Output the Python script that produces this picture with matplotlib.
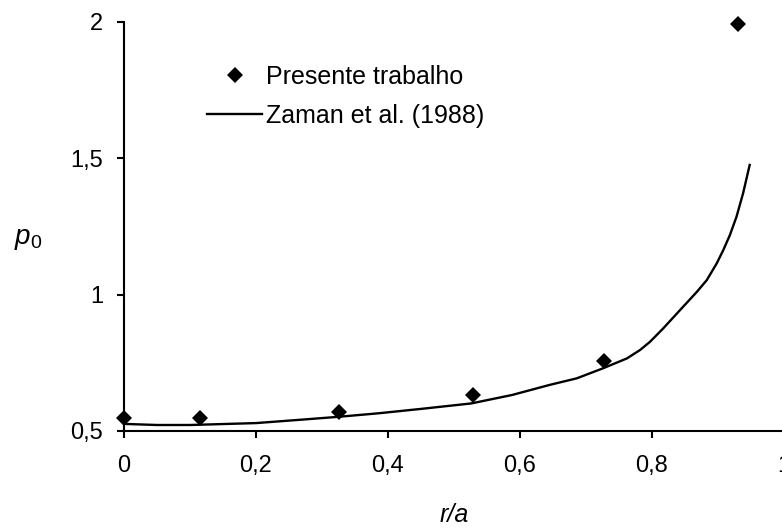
import numpy as np
import matplotlib.pyplot as plt

# measured values (present work)
r_pres = [0.0, 0.115, 0.326, 0.529, 0.727, 0.930]
p_pres = [0.548, 0.549, 0.568, 0.632, 0.758, 1.991]

# reference curve, Zaman et al. (1988)
r_zaman = [0.0, 0.05, 0.1, 0.2, 0.266, 0.325, 0.386, 0.45, 0.526, 0.588,
           0.645, 0.686, 0.726, 0.762, 0.782, 0.797, 0.817, 0.847, 0.868,
           0.883, 0.898, 0.908, 0.918, 0.928, 0.938, 0.948]
p_zaman = [0.526, 0.522, 0.522, 0.529, 0.541, 0.552, 0.565, 0.581, 0.601, 0.632,
           0.669, 0.693, 0.730, 0.766, 0.797, 0.827, 0.876, 0.955, 1.010,
           1.053, 1.114, 1.163, 1.218, 1.285, 1.371, 1.475]

xticks = [0.0, 0.2, 0.4, 0.6, 0.8, 1.0]
xticklabels = ['0', '0,2', '0,4', '0,6', '0,8', '1']
yticks = [0.5, 1.0, 1.5, 2.0]
yticklabels = ['0,5', '1', '1,5', '2']

plt.rcParams['font.family'] = ['Liberation Sans', 'DejaVu Sans']
plt.rcParams['mathtext.fontset'] = 'custom'
plt.rcParams['mathtext.it'] = 'Liberation Sans:italic'
plt.rcParams['mathtext.rm'] = 'Liberation Sans'

W, H = 782, 529
fig = plt.figure(figsize=(W / 100, H / 100), dpi=100)
ax = fig.add_axes([124 / W, 1 - 431 / H, 660 / W, (431 - 21.7) / H])

ax.plot(r_pres, p_pres, 'D', color='k', markersize=8.5, markeredgewidth=0,
        label='Presente trabalho', clip_on=False, zorder=3)
ax.plot(r_zaman, p_zaman, '-', color='k', linewidth=1.7,
        label='Zaman et al. (1988)', clip_on=False)

ax.set_xlim(0, 1)
ax.set_ylim(0.5, 2)
ax.set_xticks(xticks)
ax.set_xticklabels(xticklabels)
ax.set_yticks(yticks)
ax.set_yticklabels(yticklabels)

for s in ['top', 'right']:
    ax.spines[s].set_visible(False)
for s in ['left', 'bottom']:
    ax.spines[s].set_linewidth(1.5)
ax.tick_params(axis='both', direction='out', length=5, width=1.5,
               labelsize=17, colors='k')
ax.tick_params(axis='x', pad=12)
ax.tick_params(axis='y', pad=10)

ax.set_xlabel('r/a', fontsize=18, style='italic', labelpad=19)
ax.set_ylabel('$\\mathit{p}_{\\mathit{0}}$', fontsize=20, rotation=0,
              ha='center', va='center')
ax.yaxis.set_label_coords(-0.145, 0.47)

ax.legend(loc='center left', bbox_to_anchor=(207 / W, 1 - 96 / H),
          bbox_transform=fig.transFigure, frameon=False, fontsize=18,
          handlelength=2.2, handletextpad=0.15, borderpad=0,
          borderaxespad=0, labelspacing=0.6, numpoints=1)

fig.savefig('out.png', dpi=100)
